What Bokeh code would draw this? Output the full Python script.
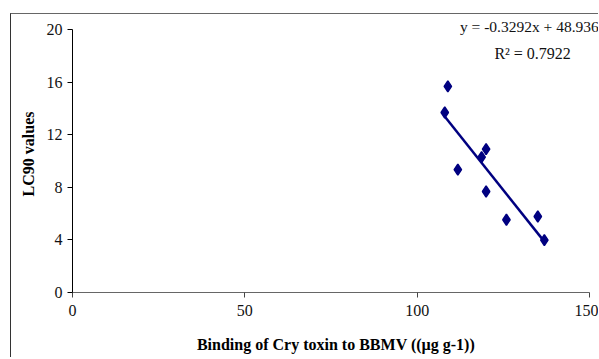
from bokeh.plotting import figure
from bokeh.models import Range1d, FixedTicker, Label
from bokeh.embed import file_html
from bokeh.resources import INLINE

# Data
binding = [108.9, 108.0, 120.0, 118.7, 111.8, 120.0, 125.9, 135.0, 136.9]
lc90 = [15.67, 13.69, 10.90, 10.29, 9.35, 7.68, 5.53, 5.78, 3.98]
slope = -0.3292
intercept = 48.936
r2 = 0.7922
x_ticks = [0, 50, 100, 150]
y_ticks = [0, 4, 8, 12, 16, 20]

fit_x = [min(binding), max(binding)]
fit_y = [slope * v + intercept for v in fit_x]

p = figure(width=588, height=344, output_backend="svg", toolbar_location=None,
           x_range=Range1d(0, 152.9), y_range=Range1d(0, 21.065),
           min_border_left=61, min_border_right=0, min_border_top=1, min_border_bottom=66)
p.margin = (13, 0, 0, 10)
p.styles = {"border-left": "1px solid #333333", "border-top": "1px solid #666666"}
p.outline_line_color = None
p.xgrid.visible = False
p.ygrid.visible = False

serif = "Liberation Serif"
p.xaxis.ticker = FixedTicker(ticks=x_ticks)
p.yaxis.ticker = FixedTicker(ticks=y_ticks)
p.xaxis.bounds = (0, 150)
p.yaxis.bounds = (0, 20)
for ax in (p.xaxis[0], p.yaxis[0]):
    ax.major_label_text_font = serif
    ax.major_label_text_font_size = "16px"
    ax.major_label_text_color = "#111111"
    ax.axis_label_text_font = serif
    ax.axis_label_text_font_size = "16px"
    ax.axis_label_text_font_style = "bold"
    ax.axis_label_text_color = "#000000"
    ax.minor_tick_line_color = None
    ax.major_tick_in = 0

p.xaxis.axis_label = "Binding of Cry toxin to BBMV ((µg g-1))"
p.yaxis.axis_label = "LC90 values"
p.xaxis.axis_line_color = "#666666"
p.xaxis.major_tick_line_color = "#444444"
p.xaxis.major_tick_out = 5
p.xaxis.major_label_standoff = 7
p.xaxis.axis_label_standoff = 17
p.yaxis.axis_line_color = "#000000"
p.yaxis.major_tick_line_color = "#000000"
p.yaxis.major_tick_out = 5
p.yaxis.major_label_standoff = 5
p.yaxis.axis_label_standoff = 7

p.line(fit_x, fit_y, line_color="#000080", line_width=2.5)
p.scatter(binding, lc90, marker="diamond", size=11, fill_color="#000080",
          line_color="#000080", line_width=1.5)

p.add_layout(Label(x=112.4, y=20.2, text=f"y = {slope}x + {intercept}", text_font=serif,
                   text_font_size="15.5px", text_color="#111111", text_baseline="middle"))
p.add_layout(Label(x=122.4, y=18.17, text=f"R² = {r2}", text_font=serif,
                   text_font_size="16px", text_color="#111111", text_baseline="middle"))

open("out.html", "w").write(file_html(p, INLINE))
